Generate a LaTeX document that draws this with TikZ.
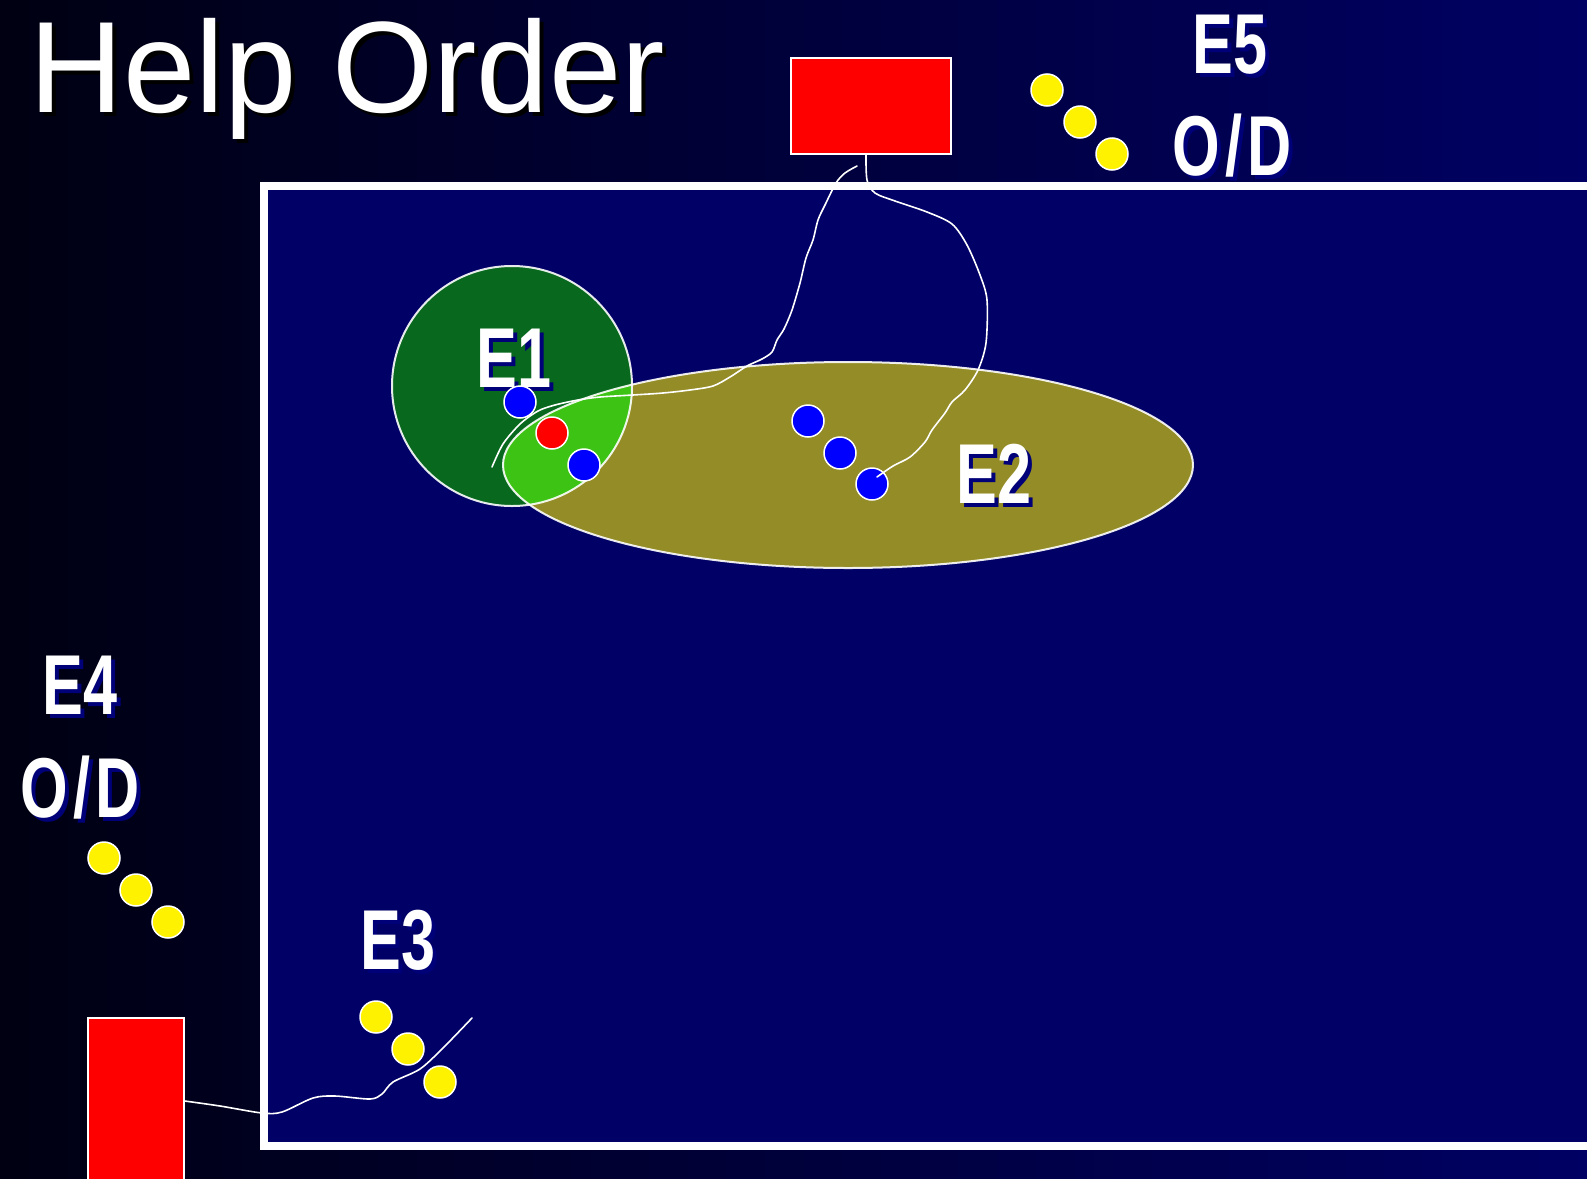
\documentclass[tikz,border=0pt]{standalone}
\usepackage{fontspec}
\setmainfont{Liberation Sans}
\newfontfamily\labfont{Liberation Sans}[FakeStretch=0.72]
\usetikzlibrary{calc}
\definecolor{bgleft}{RGB}{0,0,18}
\definecolor{bgright}{RGB}{0,0,100}
\definecolor{innerblue}{RGB}{0,0,102}
\definecolor{egreen}{RGB}{8,105,30}
\definecolor{eyellow}{RGB}{148,140,38}
\definecolor{ebright}{RGB}{60,195,20}
\definecolor{shadowblue}{RGB}{0,0,120}
\definecolor{dotblue}{RGB}{0,0,255}
\newcommand\shadowed[3]{\makebox[0pt][l]{\hspace*{#2}\raisebox{-#2}{\textcolor{#1}{#3}}}#3}
\newcommand\slashOD{O\kern5pt/\kern5pt D}
\tikzset{
  dot/.style={circle, draw=white, line width=1.5pt, minimum size=32pt, inner sep=0pt},
  ydot/.style={dot, fill=yellow},
  bdot/.style={dot, fill=dotblue},
  rdot/.style={dot, fill=red},
  redbox/.style={rectangle, draw=white, line width=1.5pt, fill=red, inner sep=0pt},
  wire/.style={white, line width=1.6pt, line cap=round, line join=round},
  lab/.style={font=\labfont\bfseries\fontsize{85}{85}\selectfont, text=white, inner sep=0pt, anchor=base},
  ttl/.style={font=\fontsize{130}{134}\selectfont, text=white, inner sep=0pt, anchor=base west},
}
\begin{document}
\begin{tikzpicture}[x=1pt,y=-1pt]
\useasboundingbox (0,0) rectangle (1587,1178);
\clip (0,0) rectangle (1587,1178);
% background
\shade[left color=bgleft, right color=bgright] (0,0) rectangle (1587,1178);
% frame
\draw[white, line width=8pt, fill=innerblue] (264,186) rectangle (1640,1146);

% title
\node[ttl] (title) at (29,112) {\shadowed{black}{4pt}{Help Order}};

% E1 circle and E2 ellipse
\fill[egreen] (512,386) circle[radius=120];
\fill[eyellow] (848,465) ellipse[x radius=345, y radius=103];
\begin{scope}
  \clip (512,386) circle[radius=120];
  \fill[ebright] (848,465) ellipse[x radius=345, y radius=103];
\end{scope}
\draw[white, line width=2pt, opacity=0.9] (512,386) circle[radius=120];
\draw[white, line width=2pt, opacity=0.9] (848,465) ellipse[x radius=345, y radius=103];

% labels
\node[lab] (e1) at (514,387) {\shadowed{shadowblue}{4pt}{E1}};
\node[lab] (e2) at (994,503) {\shadowed{shadowblue}{4pt}{E2}};
\node[lab] (e3) at (398,969) {\shadowed{shadowblue}{4pt}{E3}};
\node[lab] (e4) at (80,714) {\shadowed{shadowblue}{4pt}{E4}};
\node[lab] (od4) at (80,817) {\shadowed{shadowblue}{4pt}{\slashOD}};
\node[lab] (e5) at (1230,73) {\shadowed{shadowblue}{4pt}{E5}};
\node[lab] (od5) at (1232,175) {\shadowed{shadowblue}{4pt}{\slashOD}};

% red boxes
\node[redbox, minimum width=160pt, minimum height=96pt] (topbox) at (871,106) {};
\node[redbox, minimum width=96pt, minimum height=170pt] (lowbox) at (136,1103) {};

% dots in E1
\node[bdot] (b1) at (520,402) {};
\node[rdot] (r1) at (552,433) {};
\node[bdot] (b2) at (584,465) {};
% dots in E2
\node[bdot] (c1) at (808,421) {};
\node[bdot] (c2) at (840,453) {};
\node[bdot] (c3) at (872,484) {};
% yellow dots
\node[ydot] (y5a) at (1047,90) {};
\node[ydot] (y5b) at (1080,122) {};
\node[ydot] (y5c) at (1112,154) {};
\node[ydot] (y4a) at (104,858) {};
\node[ydot] (y4b) at (136,890) {};
\node[ydot] (y4c) at (168,922) {};
\node[ydot] (y3a) at (376,1017) {};
\node[ydot] (y3b) at (408,1049) {};
\node[ydot] (y3c) at (440,1082) {};

% wires
\coordinate (w2start) at (857,166);
\coordinate (w2end) at (492,467);
\coordinate (w3end) at (472,1018);
\draw[wire] plot[smooth, tension=0.5] coordinates {
  ([xshift=-5pt]topbox.south) (867,180) (875,193) (895,201) (927,212) (952,224)
  (967,245) (980,275) (987,300) (986,343) (978,370) (965,390) (952,402)
  (945,413) (932,430) (925,442) (910,457) (893,466) ($(c3)+(5,-7)$)};
\draw[wire] plot[smooth, tension=0.5] coordinates {
  (w2start) (845,173) (836,183) (825,205) (818,220) (813,240) (806,258)
  (800,283) (792,310) (784,329) (777,340) (772,352) (762,359) (747,366)
  (730,377) (713,386) (690,390) (663,393) (633,395) (600,397) (578,400)
  (555,405) (538,411) (520,424) (503,444) (w2end)};
\draw[wire] plot[smooth, tension=0.5] coordinates {
  ([yshift=2pt]lowbox.east) (220,1106) (262,1113) (282,1112) (313,1098)
  (335,1096) (370,1099) (382,1094) (393,1082) (420,1069) (443,1048) (w3end)};
\end{tikzpicture}
\end{document}
